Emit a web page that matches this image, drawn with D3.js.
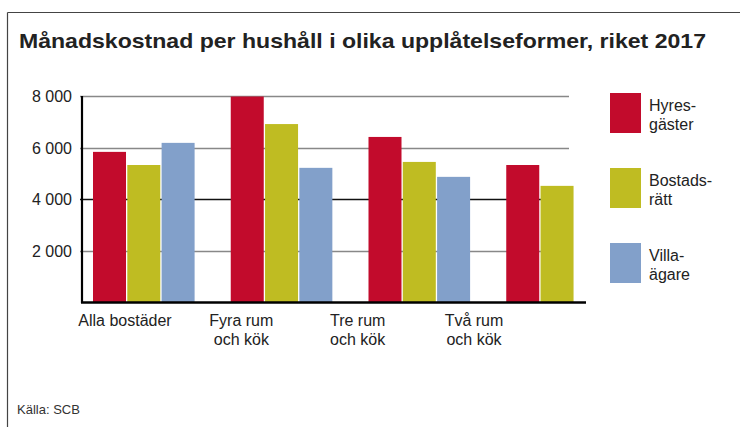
<!DOCTYPE html>
<html>
<head>
<meta charset="utf-8">
<script src="https://cdn.jsdelivr.net/npm/d3@7"></script>
<style>
  body { margin: 0; background: #fff; }
  text { font-family: "Liberation Sans", Arial, sans-serif; fill: #222; }
</style>
</head>
<body>
<svg id="chart" width="740" height="427"></svg>
<script>
// data
var categories = ["Alla bostäder", "Fyra rum och kök", "Tre rum och kök", "Två rum och kök"];
var categoryLines = [["Alla bostäder"], ["Fyra rum", "och kök"], ["Tre rum", "och kök"], ["Två rum", "och kök"]];
var seriesNames = ["Hyresgäster", "Bostadsrätt", "Villaägare"];
var seriesLines = [["Hyres-", "gäster"], ["Bostads-", "rätt"], ["Villa-", "ägare"]];
var hyresgaster = [5830, 7980, 6410, 5320];
var bostadsratt = [5320, 6910, 5440, 4510];
var villaagare  = [6180, 5210, 4860, null];
var yTicks = [2000, 4000, 6000, 8000];
var colors = ["#c20b2c", "#bfbc22", "#82a0ca"];

var svg = d3.select("#chart");

// frame: top line and left line only
svg.append("line").attr("x1", 7.5).attr("x2", 740).attr("y1", 12.5).attr("y2", 12.5)
    .attr("stroke", "#444").attr("stroke-width", 1.2);
svg.append("line").attr("x1", 7.5).attr("x2", 7.5).attr("y1", 12.5).attr("y2", 427)
    .attr("stroke", "#444").attr("stroke-width", 1.2);

svg.append("text")
    .attr("x", 19).attr("y", 48)
    .attr("textLength", 687).attr("lengthAdjust", "spacingAndGlyphs")
    .style("font-size", "21px").style("font-weight", "bold")
    .text("Månadskostnad per hushåll i olika upplåtelseformer, riket 2017");

var plotLeft = 82, plotRight = 569, baseY = 302, topY = 96;

var y = d3.scaleLinear().domain([0, 8000]).range([baseY, topY]);
var x = d3.scaleBand().domain(categories).range([93, 644]).paddingInner(0).paddingOuter(0);
var barW = 33, barStep = 34.3;

// gridlines
svg.append("g").selectAll("line").data(yTicks).join("line")
    .attr("x1", plotLeft - 2).attr("x2", plotRight)
    .attr("y1", d => Math.round(y(d)) + 0.5).attr("y2", d => Math.round(y(d)) + 0.5)
    .attr("stroke", d => d === 4000 ? "#111" : "#888")
    .attr("stroke-width", 1.3);

// tick labels
svg.append("g").selectAll("text").data(yTicks).join("text")
    .attr("x", 72).attr("y", d => y(d) + 6)
    .attr("text-anchor", "end")
    .style("font-size", "16px")
    .text(d => d3.format(",")(d).replace(",", " "));

var series = [hyresgaster, bostadsratt, villaagare];
series.forEach(function(vals, si) {
    svg.append("g").selectAll("rect")
        .data(vals.map((v, i) => ({cat: categories[i], v: v})).filter(d => d.v != null))
        .join("rect")
        .attr("x", d => x(d.cat) + si * barStep)
        .attr("y", d => y(d.v))
        .attr("width", barW)
        .attr("height", d => baseY - y(d.v))
        .attr("fill", colors[si]);
});

// axes lines
svg.append("line").attr("x1", plotLeft).attr("x2", plotLeft).attr("y1", topY).attr("y2", baseY + 1)
    .attr("stroke", "#000").attr("stroke-width", 2.2);
svg.append("line").attr("x1", plotLeft - 1).attr("x2", 586).attr("y1", baseY + 0.5).attr("y2", baseY + 0.5)
    .attr("stroke", "#000").attr("stroke-width", 2.4);

// category labels (they sit left of the groups in the original)
var labelX = d3.scalePoint().domain(categories).range([125, 474]);
categories.forEach(function(c, i) {
    var t = svg.append("text")
        .attr("x", labelX(c)).attr("y", 326)
        .attr("text-anchor", "middle")
        .style("font-size", "16px");
    categoryLines[i].forEach(function(line, li) {
        t.append("tspan").attr("x", labelX(c)).attr("dy", li === 0 ? 0 : 19).text(line);
    });
});

// legend
var legY = d3.scalePoint().domain(seriesNames).range([93, 243]);
seriesNames.forEach(function(s, i) {
    svg.append("rect").attr("x", 610).attr("y", legY(s)).attr("width", 31).attr("height", 40)
        .attr("fill", colors[i]);
    var t = svg.append("text").attr("x", 649).attr("y", legY(s) + 18).style("font-size", "16px");
    seriesLines[i].forEach(function(line, li) {
        t.append("tspan").attr("x", 649).attr("dy", li === 0 ? 0 : 19).text(line);
    });
});

svg.append("text").attr("x", 17).attr("y", 414).style("font-size", "13px").style("fill", "#333")
    .text("Källa: SCB");
</script>
</body>
</html>
